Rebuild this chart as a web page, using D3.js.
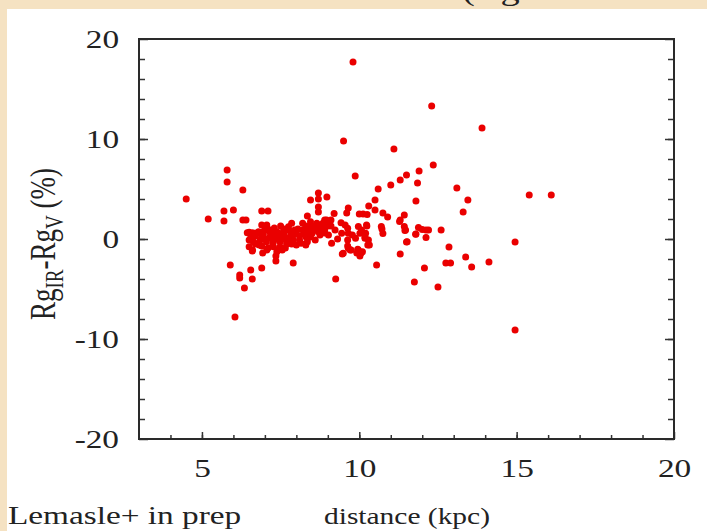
<!DOCTYPE html>
<html>
<head>
<meta charset="utf-8">
<script src="https://cdn.jsdelivr.net/npm/d3@7"></script>
<style>
  html, body { margin: 0; padding: 0; background: #f5e2c2; }
  svg { display: block; }
  text { font-family: "Liberation Serif", "DejaVu Serif", serif; fill: #222; }
</style>
</head>
<body>
<script>
// distance (kpc) and Rg_IR - Rg_V (%)
const distance = [
  4.5, 5.2, 5.7, 5.7, 5.8, 5.8, 6.0, 6.3, 6.3, 6.4, 6.9, 7.1, 5.9, 6.2, 6.2, 6.55, 6.6, 6.35, 6.05, 6.9,
  7.9, 7.35, 7.35, 6.93, 9.25, 9.8, 9.5, 11.1, 9.87, 12.3, 13.9, 12.35, 11.9, 11.5, 11.3, 11.0, 10.6, 11.85, 11.8, 10.5,
  10.3, 10.5, 8.45, 8.7, 8.7, 8.97, 8.7, 8.7, 8.35, 9.2, 9.65, 9.6, 10.0, 10.12, 10.25, 10.75, 10.9, 11.43, 11.3, 13.1,
  13.45, 13.3, 15.4, 16.1, 10.55, 11.3, 11.75, 12.07, 11.5, 11.45, 11.8, 11.88, 12.0, 12.12, 12.2, 12.12, 12.6, 12.85, 13.38, 12.75,
  12.9, 13.57, 14.12, 12.5, 14.95, 14.95, 10.72, 10.75, 10.7, 11.43, 11.28, 9.97, 10.24, 10.02, 10.18, 10.29, 10.32, 9.95, 10.05, 10.1,
  9.65, 9.74, 9.46, 9.49, 9.92, 10.02, 9.1, 9.1, 9.23, 9.02, 9.31, 9.12, 9.42, 9.55, 9.63, 9.44, 9.65, 9.78, 9.63, 9.88,
  10.23, 10.07, 10.2, 9.63, 9.71, 9.97, 10.18, 10.27, 8.8, 8.9, 8.96, 9.0, 11.52, 11.79, 11.47,
  6.5, 6.55, 6.5, 6.6, 6.8, 6.85, 6.82, 6.44, 6.61, 6.5, 6.63, 6.61, 6.79, 6.9, 7.06, 6.9, 7.06, 6.95, 7.16, 7.38,
  7.59, 7.16, 7.38, 7.59, 7.8, 7.05, 7.27, 7.48, 7.7, 7.9, 7.27, 7.48, 7.69, 7.38, 7.55, 8.0, 8.2, 8.4, 8.6, 8.8,
  8.1, 8.3, 8.5, 8.7, 8.9, 8.15, 8.35, 8.2, 8.45, 8.65, 8.9, 7.75, 7.85, 7.3, 7.5, 6.75, 7.0, 7.2, 7.4, 7.6,
  7.8, 7.65, 7.9, 8.05, 8.25, 8.45, 8.55, 8.75, 8.0, 7.1, 7.25, 6.95, 8.6,
  6.7, 6.7, 6.9, 7.0, 7.1, 7.2, 7.3, 7.45, 7.5, 7.55, 7.7, 7.75, 7.85, 7.95, 8.1, 8.3, 8.4, 8.5, 8.65, 8.8,
  8.85, 8.95, 8.3, 7.6
];
const diffPct = [
  4.0, 2.0, 2.8, 1.8, 6.9, 5.7, 2.9, 4.9, 1.9, 1.9, 2.8, 2.8, -2.6, -3.6, -3.9, -3.1, -4.0, -4.9, -7.8, -2.9,
  -2.4, -1.7, -2.2, -1.4, -4.0, 17.7, 9.8, 9.0, 6.3, 13.3, 11.1, 7.4, 6.8, 6.4, 5.9, 5.4, 5.0, 5.6, 3.8, 3.9,
  3.3, 2.9, 3.9, 4.6, 4.0, 4.2, 3.2, 2.7, 2.3, 2.55, 3.1, 2.6, 2.5, 2.5, 2.45, 2.6, 2.2, 2.4, 1.9, 5.1,
  3.9, 2.7, 4.4, 4.4, -2.6, -1.5, -4.3, -2.9, -0.3, 0.85, 0.5, 1.15, 0.95, 0.9, 0.9, 0.15, 0.9, -0.8, -1.8, -2.4,
  -2.4, -2.8, -2.3, -4.8, -0.3, -9.1, 1.0, 0.55, 1.25, 1.25, 1.75, 1.25, 1.3, 0.57, 0.23, -0.1, -0.6, -1.03, -1.43, -1.27,
  -0.93, -1.1, -1.5, -1.43, -1.4, -1.7, 1.9, 1.3, 0.9, 0.4, 0.0, -0.43, 1.63, 1.4, 1.07, 0.57, 0.57, 0.4, -0.1, 0.07,
  1.4, 0.9, 0.57, -0.7, -1.1, -1.1, 0.07, -0.6, 1.2, 0.6, 1.9, 1.3, -0.27, 0.47, 0.9,
  0.67, 0.1, -0.77, -1.2, 0.73, -0.1, -0.6, 0.63, 0.63, -0.1, -0.27, -1.1, -0.43, 0.23, -1.1, 1.4, 1.4, 0.73, 0.73, 0.73,
  0.73, 0.23, 0.23, 0.23, 0.23, -0.27, -0.27, -0.27, -0.27, -0.1, -0.77, -0.77, -0.5, -1.27, -1.1, 0.57, 0.9, 1.07, 1.23, 1.3,
  -0.1, 0.23, 0.57, 0.73, 0.9, -0.43, -0.27, 1.57, 1.73, 1.57, 1.9, 1.23, 1.57, 1.1, 1.3, 0.6, 0.0, 0.5, 0.0, 0.5,
  0.8, -0.9, 0.4, 1.0, 0.5, 0.2, 0.9, 0.4, -0.6, 1.0, -0.5, 0.45, -0.1,
  0.3, -0.5, -0.7, 0.9, -0.9, 0.1, 0.6, -1.0, 0.5, 0.0, 0.9, 0.1, -0.5, 0.9, 0.3, 1.3, 0.7, 1.3, 0.9, 0.8,
  1.6, 1.3, -0.6, 1.0
];

const xMajor = [5, 10, 15, 20];
const xMinor = d3.range(4, 20);
const yMajor = [-20, -10, 0, 10, 20];
const yMinor = d3.range(-18, 20, 2);

const W = 707, H = 531;
const plot = {left: 139, right: 674, top: 39, bottom: 439};
const stretch = 1.28; // the slide text is wider than plain Times

const svg = d3.select('body').append('svg')
  .attr('width', W)
  .attr('height', H);

// widen a text horizontally
const widen = sel => sel.each(function () {
  const len = this.getComputedTextLength();
  if (len > 0) {
    d3.select(this)
      .attr('textLength', len * stretch)
      .attr('lengthAdjust', 'spacingAndGlyphs');
  }
});

// white slide panel
svg.append('rect')
  .attr('x', 7).attr('y', 9)
  .attr('width', W - 7).attr('height', H - 9)
  .attr('fill', '#fff');

// cut off title at the top of the slide
svg.append('text')
  .attr('x', 462).attr('y', 0)
  .attr('font-size', 30)
  .text('(Rg')
  .call(widen);

const x = d3.scaleLinear().domain([3, 20]).range([plot.left, plot.right]);
const y = d3.scaleLinear().domain([-20, 20]).range([plot.bottom, plot.top]);

// axes, ticks point inward
const axisStyle = g => {
  g.select('.domain').remove();
  g.selectAll('line').attr('stroke', '#333').attr('stroke-width', 1.5);
  g.selectAll('text')
    .attr('font-size', 26)
    .attr('font-family', '"Liberation Serif", serif')
    .attr('fill', '#222')
    .call(widen);
};
const fmt = d => String(d);

svg.append('g')
  .attr('transform', `translate(${plot.left},0)`)
  .call(d3.axisLeft(y).tickValues(yMajor).tickSize(-9).tickPadding(20).tickFormat(fmt))
  .call(axisStyle);
svg.append('g')
  .attr('transform', `translate(${plot.left},0)`)
  .call(d3.axisLeft(y).tickValues(yMinor).tickSize(-6).tickFormat(''))
  .call(axisStyle);
svg.append('g')
  .attr('transform', `translate(${plot.right},0)`)
  .call(d3.axisRight(y).tickValues(yMajor).tickSize(-9).tickFormat(''))
  .call(axisStyle);
svg.append('g')
  .attr('transform', `translate(${plot.right},0)`)
  .call(d3.axisRight(y).tickValues(yMinor).tickSize(-6).tickFormat(''))
  .call(axisStyle);
svg.append('g')
  .attr('transform', `translate(0,${plot.bottom})`)
  .call(d3.axisBottom(x).tickValues(xMajor).tickSize(-7).tickPadding(20).tickFormat(fmt))
  .call(axisStyle);
svg.append('g')
  .attr('transform', `translate(0,${plot.bottom})`)
  .call(d3.axisBottom(x).tickValues(xMinor).tickSize(-4).tickFormat(''))
  .call(axisStyle);

// frame
svg.append('rect')
  .attr('x', plot.left).attr('y', plot.top)
  .attr('width', plot.right - plot.left)
  .attr('height', plot.bottom - plot.top)
  .attr('fill', 'none')
  .attr('stroke', '#2a2a2a')
  .attr('stroke-width', 2);

// points
svg.append('g')
  .selectAll('circle')
  .data(distance.map((d, i) => [d, diffPct[i]]))
  .join('circle')
  .attr('cx', d => x(d[0]))
  .attr('cy', d => y(d[1]))
  .attr('r', 3.5)
  .attr('fill', '#ea0000');

// y label with subscripts
const yl = svg.append('text')
  .attr('transform', `translate(55,${(plot.top + plot.bottom) / 2 + 5}) rotate(-90) scale(1,1.3)`)
  .attr('text-anchor', 'middle')
  .attr('font-size', 27);
yl.append('tspan').text('Rg');
yl.append('tspan').attr('font-size', 19).attr('dy', 6).text('IR');
yl.append('tspan').attr('dy', -6).text('-Rg');
yl.append('tspan').attr('font-size', 19).attr('dy', 6).text('V');
yl.append('tspan').attr('dy', -6).text(' (%)');

// x label and credit
svg.append('text')
  .attr('x', 407).attr('y', 524)
  .attr('text-anchor', 'middle')
  .attr('font-size', 23)
  .text('distance (kpc)')
  .call(widen);

svg.append('text')
  .attr('x', 8).attr('y', 524)
  .attr('font-size', 26)
  .text('Lemasle+ in prep')
  .call(widen);
</script>
</body>
</html>
